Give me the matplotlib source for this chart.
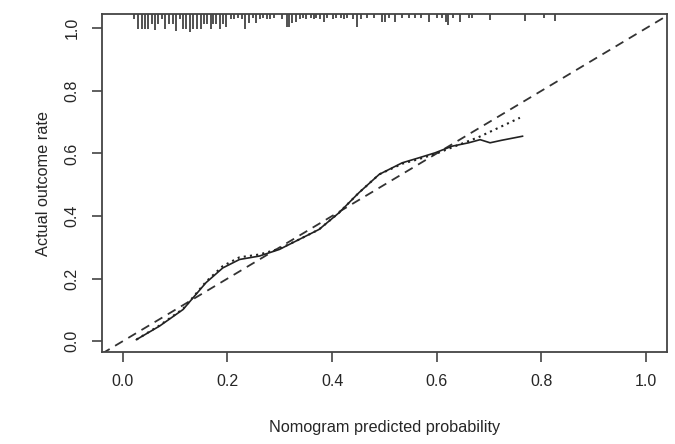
import matplotlib

matplotlib.use("Agg")
import matplotlib.pyplot as plt

# Apparent calibration curve (solid)
solid_x = [0.026, 0.070, 0.115, 0.137, 0.159, 0.191, 0.223, 0.261, 0.299, 0.337,
           0.375, 0.413, 0.451, 0.490, 0.534, 0.566, 0.597, 0.629, 0.661, 0.683,
           0.702, 0.724, 0.764]
solid_y = [0.005, 0.048, 0.101, 0.144, 0.187, 0.234, 0.261, 0.272, 0.293, 0.325,
           0.357, 0.410, 0.474, 0.533, 0.570, 0.586, 0.602, 0.623, 0.634, 0.644,
           0.634, 0.642, 0.655]

# Bias-corrected calibration curve (dotted)
dot_x = [0.026, 0.070, 0.115, 0.137, 0.159, 0.191, 0.223, 0.261, 0.299, 0.337,
         0.375, 0.413, 0.451, 0.490, 0.534, 0.566, 0.597, 0.629, 0.680, 0.759]
dot_y = [0.005, 0.050, 0.103, 0.146, 0.190, 0.240, 0.268, 0.277, 0.295, 0.325,
         0.357, 0.410, 0.474, 0.533, 0.567, 0.582, 0.598, 0.619, 0.652, 0.714]

# Rug of predicted probabilities at the top (position, tick length)
rug_x = [0.022, 0.029, 0.036, 0.042, 0.048, 0.056, 0.062, 0.067, 0.075, 0.081,
         0.088, 0.096, 0.102, 0.109, 0.115, 0.121, 0.128, 0.134, 0.142, 0.149,
         0.155, 0.161, 0.168, 0.172, 0.178, 0.185, 0.191, 0.198, 0.206,
         0.213, 0.220, 0.228, 0.234, 0.241, 0.248, 0.255, 0.262, 0.267, 0.275,
         0.281, 0.288, 0.305, 0.313, 0.318, 0.324, 0.331, 0.338, 0.345, 0.351,
         0.359, 0.366, 0.370, 0.377, 0.385, 0.391, 0.401, 0.407,
         0.417, 0.423, 0.429, 0.439, 0.448, 0.455, 0.467, 0.480, 0.496, 0.502,
         0.509, 0.521, 0.534, 0.547, 0.559, 0.569, 0.585, 0.601, 0.610,
         0.617, 0.622, 0.632, 0.645, 0.661, 0.667, 0.702, 0.768, 0.806, 0.826]
rug_h = [0.014, 0.046, 0.048, 0.046, 0.046, 0.032, 0.050, 0.032, 0.014, 0.046,
         0.032, 0.032, 0.054, 0.014, 0.046, 0.046, 0.056, 0.046, 0.046, 0.048,
         0.032, 0.032, 0.046, 0.032, 0.032, 0.046, 0.032, 0.040, 0.014,
         0.014, 0.012, 0.014, 0.046, 0.028, 0.012, 0.028, 0.014, 0.012, 0.014,
         0.014, 0.012, 0.014, 0.040, 0.040, 0.028, 0.025, 0.014, 0.012, 0.014,
         0.012, 0.014, 0.012, 0.014, 0.025, 0.012, 0.014, 0.012,
         0.012, 0.014, 0.012, 0.014, 0.040, 0.014, 0.012, 0.012, 0.025, 0.025,
         0.012, 0.025, 0.012, 0.012, 0.012, 0.012, 0.025, 0.012, 0.012,
         0.025, 0.034, 0.012, 0.025, 0.012, 0.012, 0.020, 0.022, 0.012, 0.022]

x_ticks = [0.0, 0.2, 0.4, 0.6, 0.8, 1.0]
y_ticks = [0.0, 0.2, 0.4, 0.6, 0.8, 1.0]
x_label = "Nomogram predicted probability"
y_label = "Actual outcome rate"

plt.rcParams["font.family"] = ["Liberation Sans", "DejaVu Sans"]
ink = "#262626"

fig = plt.figure(figsize=(6.75, 4.44), dpi=100)
ax = fig.add_axes([0.151, 0.207, 0.837, 0.761])

xlim = (-0.04, 1.04)
ylim = (-0.035, 1.045)

# ideal line
ax.plot([xlim[0], xlim[1]], [xlim[0], xlim[1]], color="#333333", lw=1.3,
        linestyle=(0, (5, 3.5)), zorder=2)
ax.plot(solid_x, solid_y, color="#222222", lw=1.2, zorder=3)
ax.plot(dot_x, dot_y, color="#222222", lw=1.5, linestyle=(0, (1, 2)), zorder=3)

top = ylim[1]
ax.vlines(rug_x, [top - h for h in rug_h], top, color="#333333", lw=1.2, zorder=2)

ax.set_xlim(*xlim)
ax.set_ylim(*ylim)
ax.set_xticks(x_ticks)
ax.set_yticks(y_ticks)
ax.set_xticklabels([f"{t:.1f}" for t in x_ticks])
ax.set_yticklabels([f"{t:.1f}" for t in y_ticks], rotation=90, va="center")

for spine in ax.spines.values():
    spine.set_color("#444444")
    spine.set_linewidth(1.3)

ax.tick_params(axis="both", direction="out", length=7, width=1.2, color="#444444",
               labelcolor=ink, labelsize=11.5)
ax.tick_params(axis="x", pad=9)
ax.tick_params(axis="y", pad=9)

ax.set_xlabel(x_label, fontsize=11.7, color=ink, labelpad=22)
ax.set_ylabel(y_label, fontsize=11.7, color=ink, labelpad=10)

fig.savefig("out.png", dpi=100)
